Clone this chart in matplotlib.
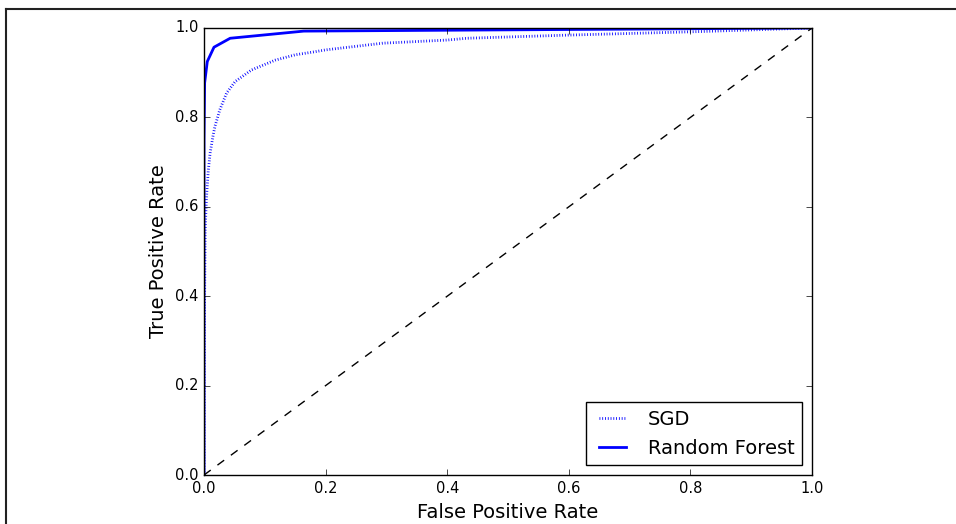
import numpy as np
import matplotlib.pyplot as plt
from matplotlib.lines import Line2D

# ROC curves
fpr_sgd = [0.0, 0.0005, 0.001, 0.002, 0.004, 0.007, 0.01, 0.015, 0.018, 0.026, 0.037,
           0.051, 0.078, 0.117, 0.15, 0.183, 0.2, 0.294, 0.4, 0.432, 0.597, 0.816, 1.0]
tpr_sgd = [0.0, 0.25, 0.4, 0.55, 0.62, 0.68, 0.72, 0.76, 0.78, 0.817, 0.854,
           0.88, 0.906, 0.928, 0.94, 0.947, 0.951, 0.966, 0.973, 0.977, 0.984, 0.992, 1.0]

fpr_forest = [0.0, 0.0, 0.001, 0.0054, 0.0164, 0.043, 0.164, 1.0]
tpr_forest = [0.0, 0.75, 0.877, 0.925, 0.957, 0.977, 0.993, 1.0]

plt.style.use('classic')
plt.rcParams['figure.facecolor'] = 'white'

fig = plt.figure(figsize=(9.56, 5.24), dpi=100)
ax = fig.add_axes([0.2134, 0.0935, 0.636, 0.8531])

ax.plot(fpr_sgd, tpr_sgd, color='b', linestyle=(0, (0.6, 1.4)), linewidth=2, label="SGD")
ax.plot(fpr_forest, tpr_forest, "b-", linewidth=2, label="Random Forest")
ax.plot([0, 1], [0, 1], 'k--')
ax.axis([0, 1, 0, 1])
ax.set_xlabel('False Positive Rate', fontsize=14)
ax.set_ylabel('True Positive Rate', fontsize=14)
ax.tick_params(labelsize=10.5)
ax.legend(loc="lower right", fontsize=14)

# frame lines of the original page crop
fig.add_artist(Line2D([0.0065, 0.0065], [0, 0.983], transform=fig.transFigure,
                      color='#222222', linewidth=1.5))
fig.add_artist(Line2D([0.0065, 1], [0.983, 0.983], transform=fig.transFigure,
                      color='#222222', linewidth=1.5))

fig.savefig('out.png', dpi=100)
